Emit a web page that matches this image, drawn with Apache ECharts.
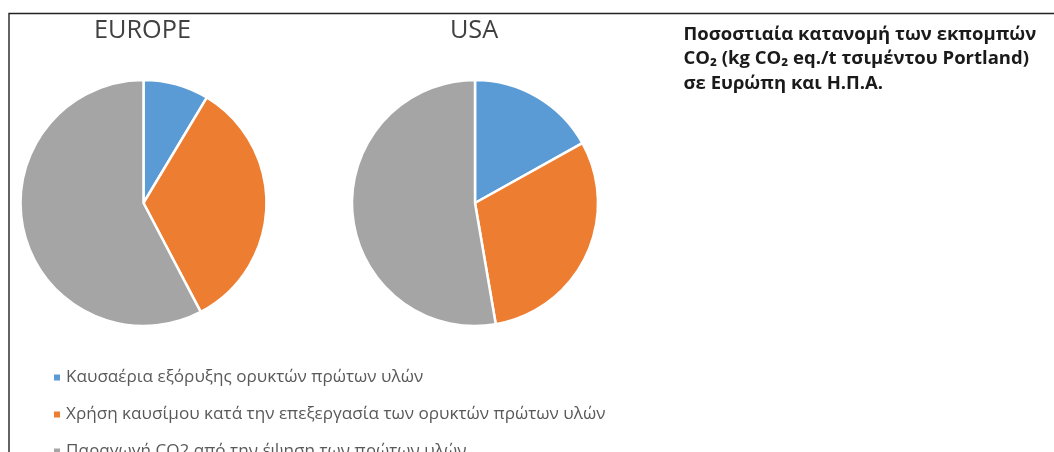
<!DOCTYPE html>
<html>
<head>
<meta charset="utf-8">
<script src="https://cdn.jsdelivr.net/npm/echarts@6/dist/echarts.min.js"></script>
<style>
  html, body { margin: 0; padding: 0; background: #fff; }
  #chart { width: 1054px; height: 452px; }
</style>
</head>
<body>
<div id="chart"></div>
<script>
// Emission sources (legend order)
const categories = [
  'Καυσαέρια εξόρυξης ορυκτών πρώτων υλών',
  'Χρήση καυσίμου κατά την επεξεργασία των ορυκτών πρώτων υλών',
  'Παραγωγή CO2 από την έψηση των πρώτων υλών'
];
// Percentage shares per region
const regions = ['EUROPE', 'USA'];
const europeShares = [8.6, 33.7, 57.7];
const usaShares = [16.9, 30.4, 52.7];
const sliceColors = ['#5B9BD5', '#ED7D31', '#A5A5A5'];

const headingLines = [
  'Ποσοστιαία κατανομή των εκπομπών',
  'CO₂ (kg CO₂ eq./t τσιμέντου Portland)',
  'σε Ευρώπη και Η.Π.Α.'
];

const FAMILY = 'Open Sans';
// Pick a font size so that a string spans the wanted width
function fitSize(text, weight, width) {
  const ctx = document.createElement('canvas').getContext('2d');
  ctx.font = weight + ' 100px "' + FAMILY + '"';
  return 100 * width / ctx.measureText(text).width;
}
const regionSize = fitSize(regions[0], 'normal', 97);
const headingSize = fitSize(headingLines[0], 'bold', 353);
const legendSize = fitSize(categories[1], 'normal', 540);
const headingGap = 24.5;
// canvas "middle" sits about 0.388em above the baseline in this family
const mid = 0.388;

const chart = echarts.init(document.getElementById('chart'), null, { renderer: 'canvas' });

const pieCenters = [143.5, 475];
function pieSeries(name, values, cx) {
  return {
    type: 'pie',
    name: name,
    center: [cx, 203],
    radius: 123,
    startAngle: 90,
    clockwise: true,
    silent: true,
    label: { show: false },
    labelLine: { show: false },
    itemStyle: { borderColor: '#ffffff', borderWidth: 2.5 },
    data: categories.map((c, i) => ({ name: c, value: values[i] }))
  };
}

const legendLine = 20;
chart.setOption({
  animation: false,
  backgroundColor: '#ffffff',
  color: sliceColors,
  legend: {
    orient: 'vertical',
    left: 47,
    top: 372.5 - legendLine / 2,
    height: 200,
    itemWidth: 8,
    itemHeight: 8,
    itemGap: 37 - legendLine,
    icon: 'rect',
    selectedMode: false,
    textStyle: { fontFamily: FAMILY, fontSize: legendSize, lineHeight: legendLine, color: '#595959' },
    data: categories
  },
  graphic: [
    { type: 'polyline', silent: true,
      shape: { points: [[9, 460], [9, 13.5], [1054, 13.5]] },
      style: { stroke: '#222222', lineWidth: 1.4, fill: null } },
    ...regions.map((r, i) => ({
      type: 'text', silent: true, x: pieCenters[i] - 1, y: 41 - mid * regionSize,
      style: { text: r, fontFamily: FAMILY, fontSize: regionSize, fill: '#404040',
               align: 'center', verticalAlign: 'middle' }
    })),
    { type: 'text', silent: true, x: 683.5, y: 41.7 - mid * headingSize - headingGap / 2,
      style: { text: headingLines.join('\n'), fontFamily: FAMILY, fontWeight: 'bold',
               fontSize: headingSize, lineHeight: headingGap, fill: '#1a1a1a',
               align: 'left', verticalAlign: 'top' } }
  ],
  series: [
    pieSeries(regions[0], europeShares, pieCenters[0]),
    pieSeries(regions[1], usaShares, pieCenters[1])
  ]
});
</script>
</body>
</html>
